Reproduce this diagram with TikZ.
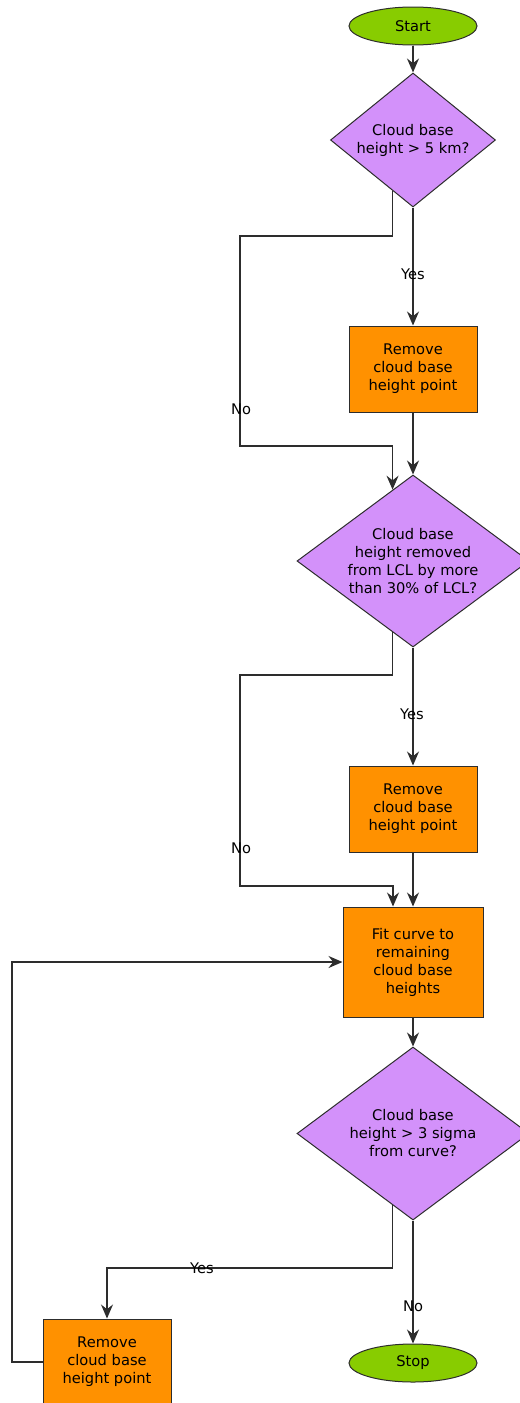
\documentclass[tikz,border=0pt]{standalone}
\usepackage{fontspec}
\setmainfont{DejaVu Sans}
\usepackage{xcolor}
\usepackage{tikz}
\usetikzlibrary{shapes.geometric,arrows.meta}

\definecolor{declilac}{RGB}{211,145,250}
\definecolor{procorange}{RGB}{255,145,0}
\definecolor{termgreen}{RGB}{136,204,0}
\definecolor{edgegray}{RGB}{45,45,45}

\tikzset{
  terminal/.style={ellipse, draw=edgegray, fill=termgreen, line width=0.75pt, minimum width=96pt, minimum height=28.5pt, inner sep=0pt},
  decision/.style={diamond, draw=edgegray, fill=declilac, line width=0.75pt, inner sep=0pt, align=center},
  process/.style={rectangle, draw=edgegray, fill=procorange, line width=0.75pt, inner sep=0pt, align=center, minimum width=96pt, minimum height=64.5pt},
  flow/.style={draw=edgegray, line width=1pt, -{Stealth[length=10.5pt,width=9pt,inset=3.5pt]}},
  edgelabel/.style={inner sep=0.75pt}
}

\begin{document}
\begin{tikzpicture}[x=0.75pt,y=0.75pt,yscale=-1,xscale=1,every node/.style={font=\fontsize{11}{13.5}\selectfont}]
\useasboundingbox (0,0) rectangle (520,1403);

%Flowchart: Terminator
\draw (413,26) node [terminal] (start) {Start};
%Flowchart: Decision
\draw (413,140) node [decision, aspect=1.23, minimum width=123.75pt, minimum height=100.5pt] (base5) {Cloud base\\height > 5 km?};
%Flowchart: Process
\draw (413,369) node [process] (remove1) {Remove\\cloud base\\height point};
%Flowchart: Decision
\draw (413,561) node [decision, aspect=1.35, minimum width=174pt, minimum height=129pt] (lcl) {Cloud base\\height removed\\from LCL by more\\than 30\% of LCL?};
%Flowchart: Process
\draw (413,809) node [process] (remove2) {Remove\\cloud base\\height point};
%Flowchart: Process
\draw (413,962) node [process, minimum width=105pt, minimum height=82.5pt] (fit) {Fit curve to\\remaining\\cloud base\\heights};
%Flowchart: Decision
\draw (413,1133.5) node [decision, aspect=1.34, minimum width=174pt, minimum height=129.75pt] (sigma) {Cloud base\\height > 3 sigma\\from curve?};
%Flowchart: Process
\draw (107,1362) node [process] (remove3) {Remove\\cloud base\\height point};
%Flowchart: Terminator
\draw (413,1363) node [terminal] (stop) {Stop};

%Corners
\coordinate (no1a) at (240,236);
\coordinate (no1b) at (240,446);
\coordinate (no2a) at (240,675);
\coordinate (no2b) at (240,886);
\coordinate (yes3a) at (107,1268);
\coordinate (loopa) at (12,1362);
\coordinate (loopb) at (12,962);

%Straight Lines
\draw [flow] (start) -- (base5);
\draw [flow] (base5) -- (remove1);
\draw [flow] (base5.248) |- (no1a) -- (no1b) -| (lcl.106);
\draw [flow] (remove1) -- (lcl);
\draw [flow] (lcl) -- (remove2);
\draw [flow] (lcl.254) |- (no2a) -- (no2b) -| ([xshift=-15pt]fit.north);
\draw [flow] (remove2) -- (fit);
\draw [flow] (fit) -- (sigma);
\draw [flow] (sigma.254) |- (yes3a) -- (remove3);
\draw [flow] (sigma) -- (stop);
\draw [flow] (remove3) -- (loopa) -- (loopb) -- (fit);

% Text Node
\draw (413,274) node [edgelabel] (yes1) {Yes};
% Text Node
\draw (241,409) node [edgelabel] (no1) {No};
% Text Node
\draw (412,714) node [edgelabel] (yes2) {Yes};
% Text Node
\draw (241,848) node [edgelabel] (no2) {No};
% Text Node
\draw (202,1268) node [edgelabel] (yes3) {Yes};
% Text Node
\draw (413,1306) node [edgelabel] (no3) {No};
\end{tikzpicture}
\end{document}
